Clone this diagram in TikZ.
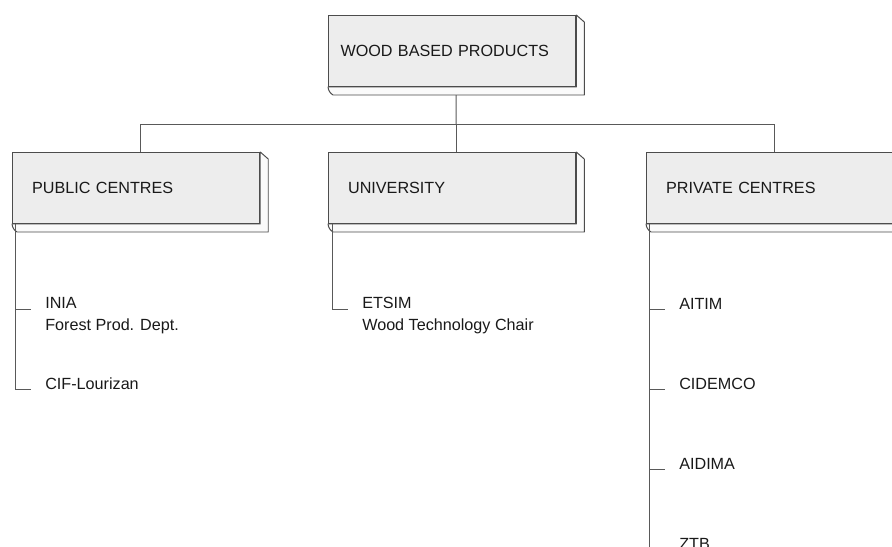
\documentclass[tikz,border=0pt]{standalone}
\usepackage{fontspec}
\setmainfont{Liberation Sans}
\usetikzlibrary{calc,positioning}

\tikzset{
	box/.style={draw=black!70,fill=black!7,line width=0.7pt,anchor=north west,
		minimum height=1.775cm,text width=5.2cm,inner xsep=0.49cm,inner ysep=0pt,
		align=left,text=black!90},
	slab/.style={draw=black!70,fill=black!2,line width=0.7pt,line join=round},
	link/.style={draw=black!65,line width=0.7pt},
	leaf/.style={anchor=base west,inner sep=0pt,align=left,text=black!90}
}

\begin{document}
\begin{tikzpicture}[x=0.025cm,y=-0.025cm,font=\fontsize{11.5}{15}\selectfont]

\useasboundingbox (0,0) rectangle (892,546);

\node[box,inner xsep=0.3cm,text width=5.58cm] (top) at (328,15) {WOOD BASED PRODUCTS};
\node[box] (pub) at (12,152) {PUBLIC CENTRES};
\node[box] (uni) at (328,152) {UNIVERSITY};
\node[box] (priv) at (646,152) {PRIVATE CENTRES};

\foreach \b in {top,pub,uni,priv}{
	\filldraw[slab] (\b.south west) to[bend right=25] ([shift={(5,8)}]\b.south west)
		-- ([shift={(8,8)}]\b.south east) -- ([shift={(8,7)}]\b.north east)
		-- (\b.north east) -- (\b.south east) -- cycle;
}

% tree above the centres
\coordinate (bus) at ($([xshift=0.1cm]top.south)+(0,37)$);
\draw[link] ([shift={(4,8)}]top.south) -- (bus);
\foreach \c in {pub,uni,priv}
	\draw[link] (bus) -| ([xshift=0.1cm]\c.north);

% members (two-line ones sit on their last line)
\node[leaf] (inia) at (45,330) {INIA\\Forest Prod. Dept.};
\node[leaf] (cif) at (45,389) {CIF-Lourizan};
\node[leaf] (etsim) at (362,330) {ETSIM\\Wood Technology Chair};
\node[leaf] (aitim) at (679,309) {AITIM};
\node[leaf] (cidemco) at (679,389) {CIDEMCO};
\node[leaf] (aidima) at (679,469) {AIDIMA};
\node[leaf] (ztb) at (679,549) {ZTB};

\coordinate (pubt) at ([xshift=0.075cm]pub.south west);
\coordinate (unit) at ([xshift=0.1cm]uni.south west);
\coordinate (privt) at ([xshift=0.075cm]priv.south west);
\coordinate (iniat) at ([shift={(-14,-21)}]inia.base west);

\draw[link] (pubt) |- ([xshift=-0.35cm]cif.base west);
\draw[link] (pubt |- iniat) -- (iniat);
\draw[link] (unit) |- ([shift={(-14,-21)}]etsim.base west);
\draw[link] (privt) |- ([xshift=-0.35cm]ztb.base west);
\foreach \m in {aitim,cidemco,aidima}
	\draw[link] (privt |- \m.base west) -- ++(16,0);

\end{tikzpicture}
\end{document}
